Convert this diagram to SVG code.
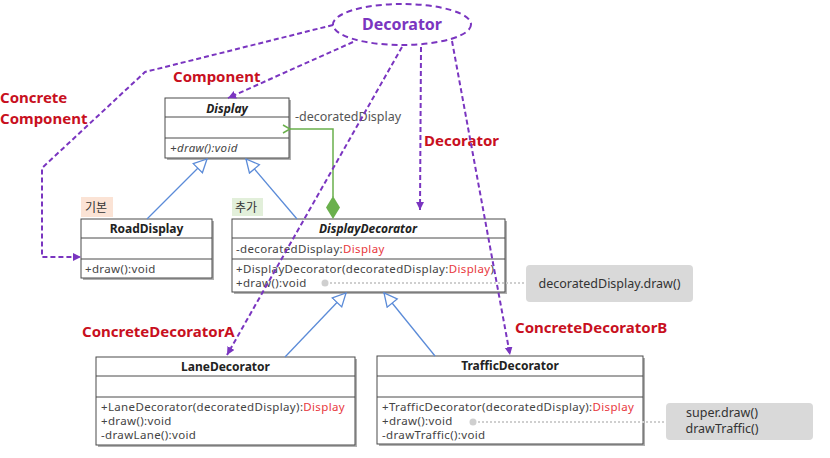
<svg xmlns="http://www.w3.org/2000/svg" width="830" height="458" viewBox="0 0 830 458">
<style>
text{font-family:"Noto Sans","Noto Sans CJK KR",sans-serif;}
.box{fill:#fff;stroke:#4a4a4a;stroke-width:1;}
.shadow{fill:#b0b0b0;}
.sep{stroke:#4a4a4a;stroke-width:1;}
.name{font-size:12px;font-weight:bold;fill:#222;text-anchor:middle;}
.mem{font-size:11.5px;letter-spacing:0.35px;fill:#444;}
.red{fill:#e8383d;}
.lbl{font-size:15px;font-weight:bold;fill:#c8101e;}
.tag{font-size:12px;fill:#333;}
.note{fill:#d9d9d9;}
.ntext{font-size:12.5px;fill:#333;text-anchor:middle;}
.dash{fill:none;stroke:#7a35c0;stroke-width:2;stroke-dasharray:5 3;marker-end:url(#parrow);}
.gen{fill:none;stroke:#5b8bd8;stroke-width:1.3;marker-end:url(#tri);}
.dot{fill:none;stroke:#cfcfcf;stroke-width:2;stroke-dasharray:2 2;}
</style>
<defs>
<marker id="parrow" markerUnits="userSpaceOnUse" markerWidth="9" markerHeight="9" refX="8" refY="4" orient="auto">
<path d="M0,0 L8,4 L0,8 z" fill="#7a35c0"/>
</marker>
<marker id="tri" markerUnits="userSpaceOnUse" markerWidth="16" markerHeight="16" refX="14" refY="7.5" orient="auto">
<path d="M1,1 L14,7.5 L1,14 z" fill="#fff" stroke="#5b8bd8" stroke-width="1.3"/>
</marker>
<marker id="garrow" markerUnits="userSpaceOnUse" markerWidth="10" markerHeight="10" refX="1" refY="5" orient="auto">
<path d="M8,1 L1,5 L8,9" fill="none" stroke="#6ab04c" stroke-width="1.5"/>
</marker>
</defs>

<g id="decorator-ellipse">
<ellipse cx="402" cy="24.5" rx="69" ry="20.5" fill="#fff" stroke="#7a35c0" stroke-width="2" stroke-dasharray="6 4"/>
<text x="402" y="30" font-size="16" font-weight="bold" fill="#7a35c0" text-anchor="middle">Decorator</text>
</g>

<g id="labels">
<text class="lbl" x="173" y="82">Component</text>
<text class="lbl" x="0" y="103">Concrete</text>
<text class="lbl" x="0" y="124">Component</text>
<text class="lbl" x="424" y="146">Decorator</text>
<text class="lbl" x="82" y="337">ConcreteDecoratorA</text>
<text class="lbl" x="515" y="333">ConcreteDecoratorB</text>
</g>

<g id="Display">
<rect class="shadow" x="167" y="100" width="124" height="60"/>
<rect class="box" x="165" y="98" width="124" height="60"/>
<line class="sep" x1="165" y1="117" x2="289" y2="117"/>
<line class="sep" x1="165" y1="138" x2="289" y2="138"/>
<text class="name" x="227" y="113" font-style="italic">Display</text>
<text class="mem" x="170" y="152" font-style="italic">+draw():void</text>
</g>

<g id="RoadDisplay">
<rect x="81" y="197" width="32" height="20" fill="#fbe3d5"/>
<text class="tag" x="85" y="212">기본</text>
<rect class="shadow" x="83" y="221" width="131" height="59"/>
<rect class="box" x="81" y="219" width="131" height="59"/>
<line class="sep" x1="81" y1="238" x2="212" y2="238"/>
<line class="sep" x1="81" y1="259" x2="212" y2="259"/>
<text class="name" x="146.5" y="233">RoadDisplay</text>
<text class="mem" x="85" y="273">+draw():void</text>
</g>

<g id="DisplayDecorator">
<rect x="232" y="198" width="31" height="18" fill="#e2efda"/>
<text class="tag" x="235" y="212">추가</text>
<rect class="shadow" x="234" y="221" width="273" height="73"/>
<rect class="box" x="232" y="219" width="273" height="73"/>
<line class="sep" x1="232" y1="238" x2="505" y2="238"/>
<line class="sep" x1="232" y1="259" x2="505" y2="259"/>
<text class="name" x="368" y="233" font-style="italic">DisplayDecorator</text>
<text class="mem" x="236" y="253">-decoratedDisplay:<tspan class="red">Display</tspan></text>
<text class="mem" x="236" y="273">+DisplayDecorator(decoratedDisplay:<tspan class="red">Display</tspan>)</text>
<text class="mem" x="236" y="287">+draw():void</text>
</g>

<g id="LaneDecorator">
<rect class="shadow" x="98" y="359" width="259" height="88"/>
<rect class="box" x="96" y="357" width="259" height="88"/>
<line class="sep" x1="96" y1="376" x2="355" y2="376"/>
<line class="sep" x1="96" y1="397" x2="355" y2="397"/>
<text class="name" x="225.5" y="371">LaneDecorator</text>
<text class="mem" x="101" y="411">+LaneDecorator(decoratedDisplay):<tspan class="red">Display</tspan></text>
<text class="mem" x="101" y="425">+draw():void</text>
<text class="mem" x="101" y="439">-drawLane():void</text>
</g>

<g id="TrafficDecorator">
<rect class="shadow" x="379" y="358" width="266" height="88"/>
<rect class="box" x="377" y="356" width="266" height="88"/>
<line class="sep" x1="377" y1="376" x2="643" y2="376"/>
<line class="sep" x1="377" y1="397" x2="643" y2="397"/>
<text class="name" x="510" y="370">TrafficDecorator</text>
<text class="mem" x="382" y="411">+TrafficDecorator(decoratedDisplay):<tspan class="red">Display</tspan></text>
<text class="mem" x="382" y="425">+draw():void</text>
<text class="mem" x="382" y="439">-drawTraffic():void</text>
</g>

<g id="note1">
<rect class="note" x="526" y="265" width="167" height="37" rx="4"/>
<text class="ntext" x="609.5" y="288">decoratedDisplay.draw()</text>
</g>

<g id="note2">
<rect class="note" x="666" y="403" width="147" height="37" rx="4"/>
<text class="ntext" x="722" y="417">super.draw()</text>
<text class="ntext" x="722" y="433">drawTraffic()</text>
</g>

<g id="connectors">
<line class="gen" x1="147" y1="219" x2="207" y2="159"/>
<line class="gen" x1="297" y1="219" x2="246" y2="159"/>
<line class="gen" x1="285" y1="357" x2="346" y2="293"/>
<line class="gen" x1="435" y1="356" x2="384" y2="293"/>
<path d="M333,197 L333,129 L290,129" fill="none" stroke="#6ab04c" stroke-width="1.5" marker-end="url(#garrow)"/>
<polygon points="333,196 340,207.5 333,219 326,207.5" fill="#6ab04c"/>
<text x="295" y="121" font-size="12.5" fill="#555">-decoratedDisplay</text>
<circle cx="325" cy="283" r="3.5" fill="#cfcfcf"/>
<line class="dot" x1="330" y1="283" x2="526" y2="283"/>
<circle cx="473" cy="422" r="3.5" fill="#cfcfcf"/>
<line class="dot" x1="478" y1="422" x2="666" y2="422"/>
<path class="dash" d="M333,25 L145,72 L42,168 L42,257 L81,257"/>
<path class="dash" d="M353,42 L228,98"/>
<path class="dash" d="M402,47 L227,355"/>
<path class="dash" d="M421,47 L420,210"/>
<path class="dash" d="M452,41 L510,355"/>
</g>
</svg>
